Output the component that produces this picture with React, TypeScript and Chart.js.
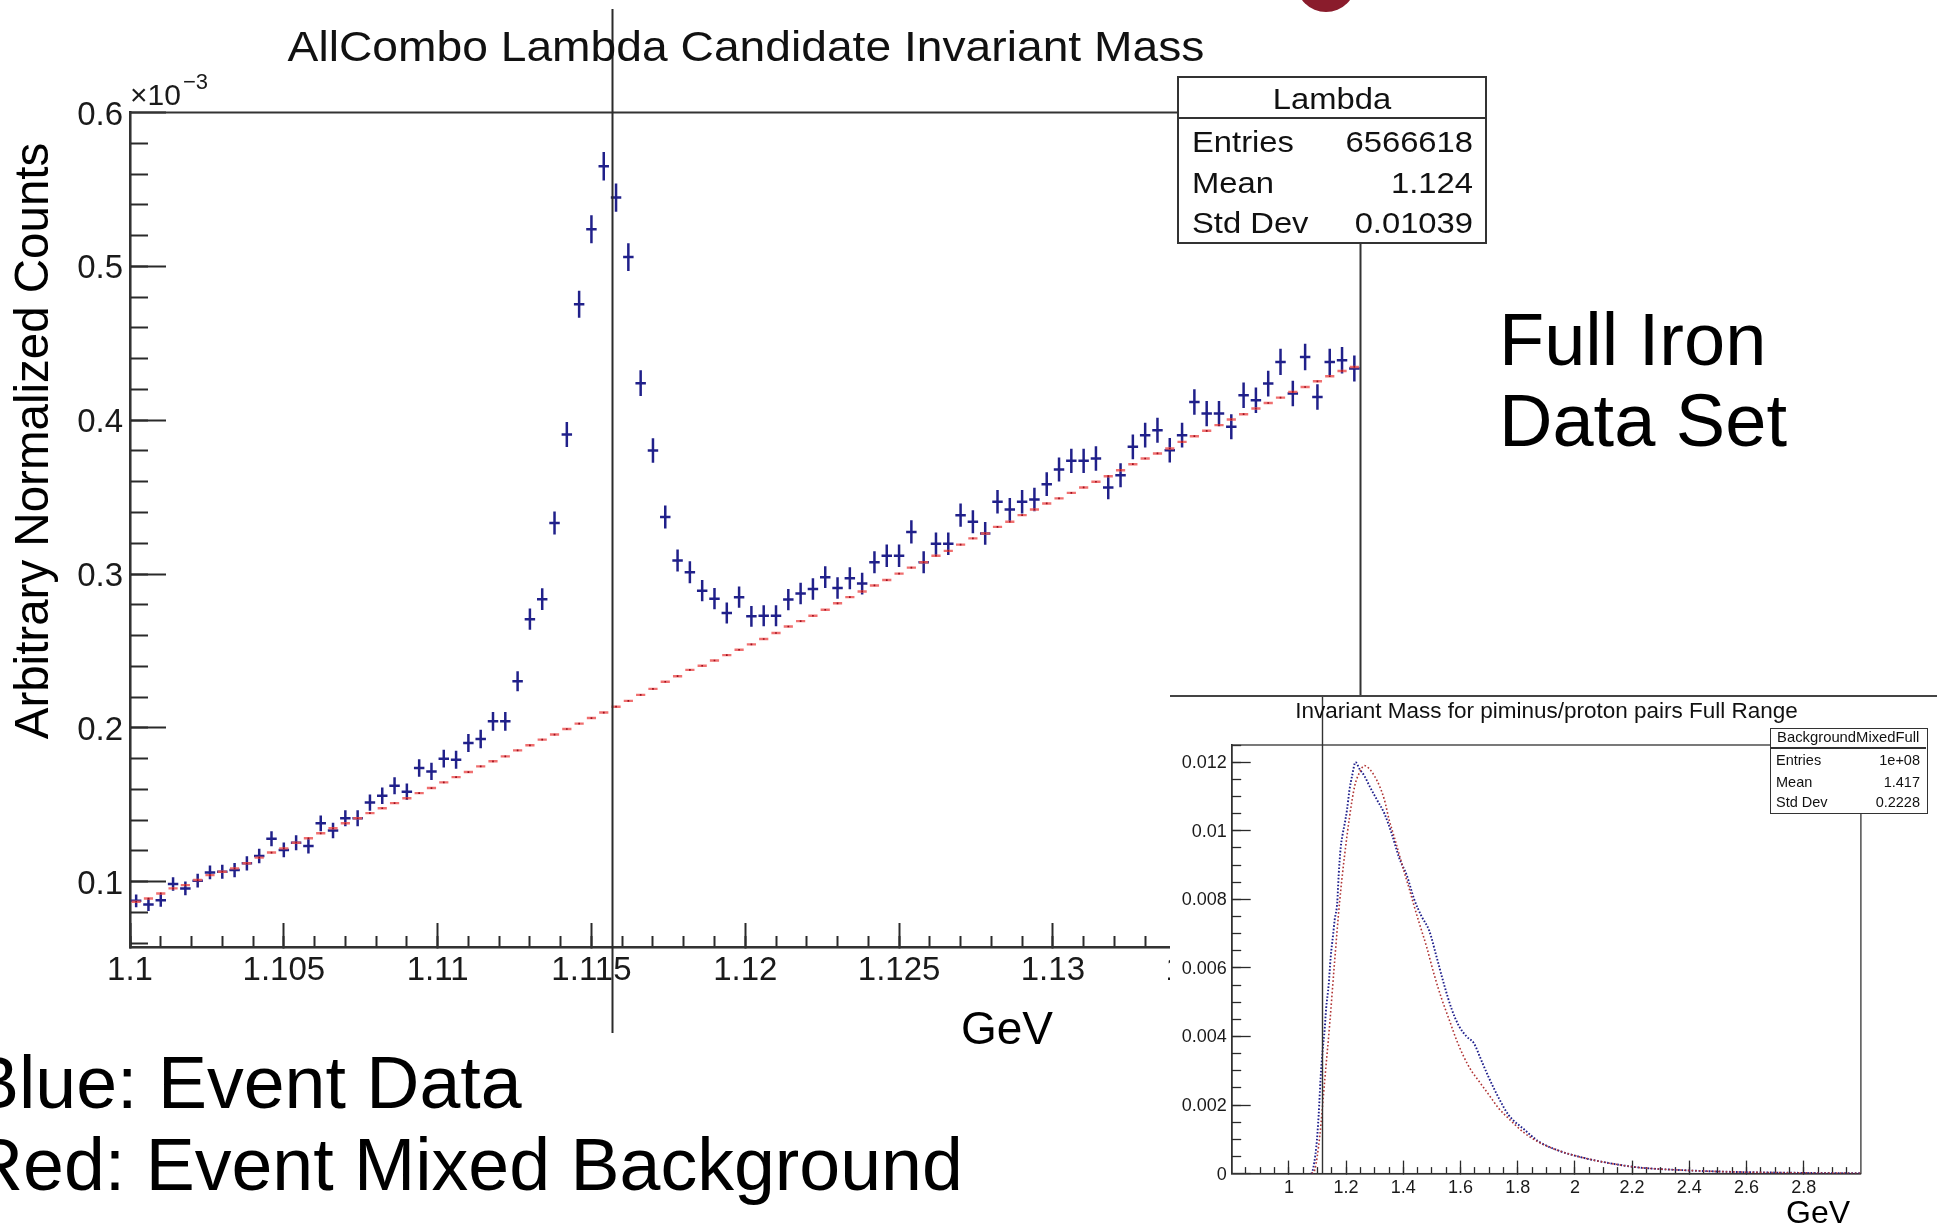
import React, { useEffect, useRef } from 'react';
import { Chart, registerables } from 'chart.js';

Chart.register(...registerables);

const FONT = '"Liberation Sans", Arial, Helvetica, sans-serif';

// ---------------- Main histogram: AllCombo Lambda Candidate Invariant Mass ----------------
const BIN_CENTERS = [
  1.1002, 1.1006, 1.101, 1.1014, 1.1018, 1.1022, 1.1026, 1.103, 1.1034, 1.1038,
  1.1042, 1.1046, 1.105, 1.1054, 1.1058, 1.1062, 1.1066, 1.107, 1.1074, 1.1078,
  1.1082, 1.1086, 1.109, 1.1094, 1.1098, 1.1102, 1.1106, 1.111, 1.1114, 1.1118,
  1.1122, 1.1126, 1.113, 1.1134, 1.1138, 1.1142, 1.1146, 1.115, 1.1154, 1.1158,
  1.1162, 1.1166, 1.117, 1.1174, 1.1178, 1.1182, 1.1186, 1.119, 1.1194, 1.1198,
  1.1202, 1.1206, 1.121, 1.1214, 1.1218, 1.1222, 1.1226, 1.123, 1.1234, 1.1238,
  1.1242, 1.1246, 1.125, 1.1254, 1.1258, 1.1262, 1.1266, 1.127, 1.1274, 1.1278,
  1.1282, 1.1286, 1.129, 1.1294, 1.1298, 1.1302, 1.1306, 1.131, 1.1314, 1.1318,
  1.1322, 1.1326, 1.133, 1.1334, 1.1338, 1.1342, 1.1346, 1.135, 1.1354, 1.1358,
  1.1362, 1.1366, 1.137, 1.1374, 1.1378, 1.1382, 1.1386, 1.139, 1.1394, 1.1398,
];

// Event data (blue), in units of 1e-3
const BLUE_COUNTS = [
  0.0876, 0.0852, 0.088, 0.0985, 0.0957, 0.1007, 0.1061, 0.1065, 0.1076, 0.112,
  0.1167, 0.128, 0.1207, 0.1254, 0.1233, 0.138, 0.1333, 0.1413, 0.1413, 0.1515,
  0.1559, 0.1624, 0.1585, 0.174, 0.1717, 0.18, 0.1793, 0.1902, 0.1928, 0.2043,
  0.2043, 0.2304, 0.2707, 0.2837, 0.3332, 0.3907, 0.4754, 0.5241, 0.5651, 0.5447,
  0.506, 0.4241, 0.3803, 0.3371, 0.3088, 0.3012, 0.2892, 0.284, 0.2747, 0.285,
  0.2725, 0.2729, 0.2729, 0.2834, 0.2873, 0.2903, 0.298, 0.291, 0.2973, 0.2938,
  0.3077, 0.3119, 0.3119, 0.3274, 0.3077, 0.3197, 0.3197, 0.3383, 0.334, 0.3264,
  0.347, 0.342, 0.347, 0.3485, 0.3584, 0.368, 0.3736, 0.3736, 0.3751, 0.3563,
  0.3643, 0.3827, 0.3903, 0.3935, 0.3805, 0.3903, 0.4119, 0.4043, 0.4043, 0.3957,
  0.4162, 0.413, 0.4238, 0.4379, 0.4173, 0.4411, 0.4151, 0.4379, 0.439, 0.4336,
];

const BLUE_ERRORS = [
  0.0042, 0.0042, 0.0042, 0.0044, 0.0044, 0.0045, 0.0045, 0.0045, 0.0046, 0.0046,
  0.0047, 0.0049, 0.0048, 0.0049, 0.0049, 0.0051, 0.005, 0.0052, 0.0052, 0.0053,
  0.0054, 0.0055, 0.0054, 0.0057, 0.0056, 0.0058, 0.0058, 0.0059, 0.006, 0.0061,
  0.0061, 0.0065, 0.0069, 0.007, 0.0075, 0.0081, 0.0088, 0.0091, 0.0093, 0.0092,
  0.009, 0.0083, 0.0079, 0.0075, 0.0072, 0.0071, 0.0069, 0.0069, 0.0068, 0.0069,
  0.0068, 0.0068, 0.0068, 0.0069, 0.007, 0.007, 0.0071, 0.007, 0.0071, 0.0071,
  0.0072, 0.0073, 0.0073, 0.0075, 0.0072, 0.0073, 0.0073, 0.0075, 0.0075, 0.0074,
  0.0076, 0.0075, 0.0076, 0.0076, 0.0077, 0.0078, 0.0079, 0.0079, 0.0079, 0.0077,
  0.0078, 0.008, 0.0081, 0.0081, 0.008, 0.0081, 0.0083, 0.0082, 0.0082, 0.0081,
  0.0083, 0.0083, 0.0084, 0.0085, 0.0083, 0.0086, 0.0083, 0.0085, 0.0086, 0.0085,
];

// Event mixed background (red), in units of 1e-3
const RED_COUNTS = [
  0.087, 0.0891, 0.0924, 0.0957, 0.0978, 0.1011, 0.1043, 0.1065, 0.1087, 0.112,
  0.1157, 0.119, 0.1217, 0.1254, 0.1283, 0.1315, 0.1348, 0.138, 0.1413, 0.1446,
  0.1478, 0.1511, 0.1543, 0.1576, 0.1609, 0.1646, 0.168, 0.1713, 0.175, 0.1783,
  0.1815, 0.1854, 0.1887, 0.1924, 0.1957, 0.1993, 0.2028, 0.2064, 0.21, 0.2138,
  0.2176, 0.2215, 0.2254, 0.23, 0.2336, 0.2377, 0.2404, 0.2438, 0.2473, 0.2508,
  0.2543, 0.2578, 0.2617, 0.2659, 0.2694, 0.2729, 0.2768, 0.281, 0.285, 0.2887,
  0.2926, 0.2961, 0.3003, 0.3042, 0.3077, 0.3119, 0.3151, 0.3191, 0.3232, 0.3264,
  0.3307, 0.334, 0.3383, 0.342, 0.3459, 0.3492, 0.3528, 0.3563, 0.36, 0.3636,
  0.3675, 0.3714, 0.3751, 0.3784, 0.3816, 0.3859, 0.3896, 0.3931, 0.3968, 0.4005,
  0.4039, 0.4076, 0.4112, 0.4147, 0.4184, 0.4216, 0.4253, 0.4286, 0.432, 0.4346,
];

const LAMBDA_MASS = 1.115683;
const MAIN_X_MIN = 1.1;
const MAIN_X_MAX = 1.14;
const MAIN_Y_MIN = 0.0576;
const MAIN_Y_MAX = 0.6;
const MAIN_X_TICKS = [1.1, 1.105, 1.11, 1.115, 1.12, 1.125, 1.13, 1.135, 1.14];
const MAIN_X_TICK_LABELS = ['1.1', '1.105', '1.11', '1.115', '1.12', '1.125', '1.13', '1.135', '1.14'];
const MAIN_Y_TICKS = [0.1, 0.2, 0.3, 0.4, 0.5, 0.6];
const MAIN_Y_TICK_LABELS = ['0.1', '0.2', '0.3', '0.4', '0.5', '0.6'];
const LAMBDA_STATS = [
  ['Entries', '6566618'],
  ['Mean', '1.124'],
  ['Std Dev', '0.01039'],
];

// ---------------- Inset: Invariant Mass for piminus/proton pairs Full Range ----------------
const INSET_BLUE_X = [
  1.078, 1.082, 1.096, 1.104, 1.111, 1.118, 1.125, 1.13, 1.139, 1.146, 1.155, 1.16, 1.169,
  1.174, 1.181, 1.188, 1.195, 1.203, 1.212, 1.221, 1.233, 1.247, 1.264, 1.282, 1.308, 1.334,
  1.36, 1.386, 1.412, 1.438, 1.464, 1.49, 1.517, 1.543, 1.569, 1.595, 1.621, 1.647, 1.673,
  1.699, 1.734, 1.769, 1.821, 1.873, 1.943, 2.03, 2.117, 2.221, 2.377, 2.551, 2.812, 3.0,
];
const INSET_BLUE_Y = [
  0, 0.00005, 0.0008, 0.0017, 0.0028, 0.0036, 0.0042, 0.0048, 0.0055, 0.0063, 0.007, 0.0074,
  0.0079, 0.0087, 0.0095, 0.0099, 0.0102, 0.0106, 0.0112, 0.0116, 0.012, 0.0118, 0.0116,
  0.0113, 0.0109, 0.0105, 0.0099, 0.0092, 0.0087, 0.008, 0.0075, 0.0071, 0.0063, 0.0055,
  0.0048, 0.0043, 0.004, 0.0038, 0.0033, 0.0028, 0.0022, 0.0017, 0.0013, 0.00094, 0.00067,
  0.00046, 0.00031, 0.00018, 0.0001, 0.00005, 0.00002, 0.00001,
];
const INSET_RED_X = [
  1.08, 1.09, 1.108, 1.125, 1.143, 1.16, 1.177, 1.195, 1.212, 1.23, 1.247, 1.264, 1.282,
  1.299, 1.317, 1.334, 1.351, 1.369, 1.386, 1.403, 1.421, 1.438, 1.456, 1.482, 1.508, 1.534,
  1.56, 1.586, 1.612, 1.638, 1.664, 1.699, 1.734, 1.769, 1.821, 1.873, 1.943, 2.03, 2.117,
  2.221, 2.377, 2.551, 2.812, 3.0,
];
const INSET_RED_Y = [
  0, 0.0001, 0.0011, 0.0027, 0.0044, 0.0062, 0.0079, 0.0093, 0.0104, 0.0113, 0.0117, 0.0119,
  0.0118, 0.0116, 0.0113, 0.0109, 0.0103, 0.0098, 0.0093, 0.0088, 0.0083, 0.0078, 0.0073,
  0.0066, 0.0058, 0.0051, 0.0045, 0.0039, 0.0034, 0.003, 0.0027, 0.0023, 0.0019, 0.0016,
  0.0012, 0.00092, 0.00067, 0.00046, 0.00031, 0.00018, 0.0001, 0.00005, 0.00002, 0.00001,
];
const INSET_X_MIN = 0.8;
const INSET_X_MAX = 3.0;
const INSET_Y_MIN = 0;
const INSET_Y_MAX = 0.0125;
const INSET_X_TICKS = [1, 1.2, 1.4, 1.6, 1.8, 2, 2.2, 2.4, 2.6, 2.8];
const INSET_X_TICK_LABELS = ['1', '1.2', '1.4', '1.6', '1.8', '2', '2.2', '2.4', '2.6', '2.8'];
const INSET_Y_TICKS = [0, 0.002, 0.004, 0.006, 0.008, 0.01, 0.012];
const INSET_Y_TICK_LABELS = ['0', '0.002', '0.004', '0.006', '0.008', '0.01', '0.012'];
const BKG_STATS = [
  ['Entries', '1e+08'],
  ['Mean', '1.417'],
  ['Std Dev', '0.2228'],
];

// ---------------- styling constants ----------------
const BLUE = '#20208a';
const RED_LIGHT = 'rgba(238, 92, 92, 0.88)';
const RED_DARK = '#9a0f1e';
const CROSS_HALF_WIDTH = 0.00017; // horizontal arm of the data crosses, in GeV

function steps(from: number, to: number, step: number): number[] {
  const out: number[] = [];
  const n = Math.round((to - from) / step);
  for (let i = 0; i <= n; i++) out.push(+(from + i * step).toFixed(6));
  return out;
}

type AxisSpec = {
  id: string;
  minorId: string;
  position: 'bottom' | 'left';
  min: number;
  max: number;
  major: number[];
  labels: string[];
  minor: number[];
  size: number;
  majorLen: number;
  minorLen: number;
  fontSize: number;
  padding: number;
  labelOffset?: number;
  borderWidth: number;
  tickWidth: number;
};

function makeAxes(p: AxisSpec) {
  const horizontal = p.position === 'bottom';
  return {
    [p.id]: {
      type: 'linear',
      position: p.position,
      min: p.min,
      max: p.max,
      weight: 1,
      afterBuildTicks: (s: any) => {
        s.ticks = p.major.map((v) => ({ value: v }));
      },
      afterFit: (s: any) => {
        if (horizontal) s.height = p.size;
        else s.width = p.size;
      },
      ticks: {
        autoSkip: false,
        maxRotation: 0,
        minRotation: 0,
        padding: p.padding,
        labelOffset: p.labelOffset || 0,
        color: '#1a1a1a',
        font: { family: FONT, size: p.fontSize },
        callback: (_v: any, i: number) => p.labels[i],
      },
      grid: {
        drawOnChartArea: false,
        drawTicks: true,
        tickLength: -p.majorLen,
        tickWidth: p.tickWidth,
        tickColor: '#2a2a2a',
      },
      border: { display: true, color: '#1e1e1e', width: p.borderWidth },
    },
    [p.minorId]: {
      type: 'linear',
      position: p.position,
      min: p.min,
      max: p.max,
      weight: 0,
      afterBuildTicks: (s: any) => {
        s.ticks = p.minor.map((v) => ({ value: v }));
      },
      afterFit: (s: any) => {
        if (horizontal) s.height = 0;
        else s.width = 0;
      },
      ticks: { display: false },
      grid: {
        drawOnChartArea: false,
        drawTicks: true,
        tickLength: -p.minorLen,
        tickWidth: p.tickWidth,
        tickColor: '#2a2a2a',
      },
      border: { display: false },
    },
  };
}

function MainChart() {
  const ref = useRef<HTMLCanvasElement>(null);
  useEffect(() => {
    const canvas = ref.current;
    if (!canvas) return;

    const blueSegments: { x: number; y: number | null }[] = [];
    BIN_CENTERS.forEach((c, i) => {
      const v = BLUE_COUNTS[i];
      const e = BLUE_ERRORS[i];
      blueSegments.push({ x: c, y: v - e }, { x: c, y: v + e }, { x: c, y: null });
      blueSegments.push(
        { x: c - CROSS_HALF_WIDTH, y: v },
        { x: c + CROSS_HALF_WIDTH, y: v },
        { x: c + CROSS_HALF_WIDTH, y: null },
      );
    });
    const redPoints = BIN_CENTERS.map((c, i) => ({ x: c, y: RED_COUNTS[i] }));

    const overlay = {
      id: 'mainOverlay',
      beforeDatasetsDraw(chart: any) {
        const { ctx, chartArea: a } = chart;
        ctx.save();
        ctx.strokeStyle = '#333';
        ctx.lineWidth = 2;
        ctx.strokeRect(a.left, a.top, a.right - a.left, a.bottom - a.top);
        ctx.restore();
      },
      afterDraw(chart: any) {
        const { ctx } = chart;
        const x = Math.round(chart.scales.x.getPixelForValue(LAMBDA_MASS)) + 0.5;
        ctx.save();
        ctx.strokeStyle = '#2b2b2b';
        ctx.lineWidth = 2;
        ctx.beginPath();
        ctx.moveTo(x, 9);
        ctx.lineTo(x, 1033);
        ctx.stroke();
        ctx.restore();
      },
    };

    const chart = new Chart(canvas, {
      type: 'line',
      data: {
        datasets: [
          {
            label: 'Event Data',
            data: blueSegments as any,
            borderColor: BLUE,
            borderWidth: 2.5,
            pointRadius: 0,
            spanGaps: false,
            tension: 0,
            fill: false,
            order: 2,
          },
          {
            label: 'Event Mixed Background',
            data: redPoints,
            showLine: false,
            pointStyle: 'line',
            pointRadius: 4.6,
            pointBorderWidth: 2.4,
            pointBorderColor: RED_LIGHT,
            pointBackgroundColor: RED_LIGHT,
            order: 1,
          },
          {
            label: 'Event Mixed Background (bin centre)',
            data: redPoints,
            showLine: false,
            pointStyle: 'rect',
            pointRadius: 1.2,
            pointBorderWidth: 0,
            pointBackgroundColor: RED_DARK,
            order: 0,
          },
        ],
      } as any,
      options: {
        responsive: false,
        animation: false,
        devicePixelRatio: 1,
        events: [],
        layout: { padding: { left: 0, top: 112.5, right: 79.5, bottom: 53 } },
        plugins: { legend: { display: false }, tooltip: { enabled: false }, title: { display: false } },
        scales: {
          ...makeAxes({
            id: 'x',
            minorId: 'xMinor',
            position: 'bottom',
            min: MAIN_X_MIN,
            max: MAIN_X_MAX,
            major: MAIN_X_TICKS,
            labels: MAIN_X_TICK_LABELS,
            minor: steps(1.1, 1.14, 0.001),
            size: 60,
            majorLen: 24,
            minorLen: 11,
            fontSize: 33,
            padding: 28,
            borderWidth: 2.5,
            tickWidth: 2,
          }),
          ...makeAxes({
            id: 'y',
            minorId: 'yMinor',
            position: 'left',
            min: MAIN_Y_MIN,
            max: MAIN_Y_MAX,
            major: MAIN_Y_TICKS,
            labels: MAIN_Y_TICK_LABELS,
            minor: steps(0.06, 0.58, 0.02),
            size: 130,
            majorLen: 36,
            minorLen: 18,
            fontSize: 33,
            padding: 43,
            labelOffset: 3,
            borderWidth: 2.5,
            tickWidth: 2,
          }),
        } as any,
      },
      plugins: [overlay],
    });
    return () => chart.destroy();
  }, []);
  return (
    <canvas
      ref={ref}
      width={1440}
      height={1060}
      style={{ position: 'absolute', left: 0, top: 0, width: 1440, height: 1060 }}
    />
  );
}

function InsetChart() {
  const ref = useRef<HTMLCanvasElement>(null);
  useEffect(() => {
    const canvas = ref.current;
    if (!canvas) return;
    const overlay = {
      id: 'insetOverlay',
      beforeDatasetsDraw(chart: any) {
        const { ctx, chartArea: a } = chart;
        ctx.save();
        ctx.strokeStyle = '#333';
        ctx.lineWidth = 1.3;
        ctx.strokeRect(a.left, a.top, a.right - a.left, a.bottom - a.top);
        ctx.restore();
      },
      afterDraw(chart: any) {
        const { ctx, chartArea: a } = chart;
        const x = Math.round(chart.scales.x.getPixelForValue(LAMBDA_MASS)) + 0.5;
        ctx.save();
        ctx.strokeStyle = '#333';
        ctx.lineWidth = 1.4;
        ctx.beginPath();
        ctx.moveTo(x, 0);
        ctx.lineTo(x, a.bottom);
        ctx.stroke();
        ctx.restore();
      },
    };
    const chart = new Chart(canvas, {
      type: 'line',
      data: {
        datasets: [
          {
            label: 'Event Data',
            data: INSET_BLUE_X.map((x, i) => ({ x, y: INSET_BLUE_Y[i] })),
            borderColor: '#1f1f8c',
            borderWidth: 1.9,
            borderDash: [1.6, 1.8],
            pointRadius: 0,
            cubicInterpolationMode: 'monotone',
            fill: false,
            order: 1,
          },
          {
            label: 'BackgroundMixedFull',
            data: INSET_RED_X.map((x, i) => ({ x, y: INSET_RED_Y[i] })),
            borderColor: '#b03434',
            borderWidth: 1.6,
            borderDash: [1.6, 2.2],
            pointRadius: 0,
            cubicInterpolationMode: 'monotone',
            fill: false,
            order: 0,
          },
        ],
      } as any,
      options: {
        responsive: false,
        animation: false,
        devicePixelRatio: 1,
        events: [],
        layout: { padding: { left: 0, top: 50, right: 76.1, bottom: 25.4 } },
        plugins: { legend: { display: false }, tooltip: { enabled: false }, title: { display: false } },
        scales: {
          ...makeAxes({
            id: 'x',
            minorId: 'xMinor',
            position: 'bottom',
            min: INSET_X_MIN,
            max: INSET_X_MAX,
            major: INSET_X_TICKS,
            labels: INSET_X_TICK_LABELS,
            minor: steps(0.85, 2.95, 0.05),
            size: 30,
            majorLen: 13,
            minorLen: 6.5,
            fontSize: 18,
            padding: 17,
            borderWidth: 1.6,
            tickWidth: 1.3,
          }),
          ...makeAxes({
            id: 'y',
            minorId: 'yMinor',
            position: 'left',
            min: INSET_Y_MIN,
            max: INSET_Y_MAX,
            major: INSET_Y_TICKS,
            labels: INSET_Y_TICK_LABELS,
            minor: steps(0.0005, 0.0125, 0.0005),
            size: 61.7,
            majorLen: 19,
            minorLen: 9.5,
            fontSize: 18,
            padding: 24,
            labelOffset: 1,
            borderWidth: 1.6,
            tickWidth: 1.3,
          }),
        } as any,
      },
      plugins: [overlay],
    });
    return () => chart.destroy();
  }, []);
  return (
    <canvas
      ref={ref}
      width={767}
      height={534}
      style={{ position: 'absolute', left: 0, top: 0, width: 767, height: 534 }}
    />
  );
}

type TxtProps = {
  x: number;
  base: number;
  size: number;
  text: string;
  align?: 'left' | 'center' | 'right';
  w?: number;
  sx?: number;
  color?: string;
};

function Txt({ x, base, size, text, align = 'left', w = 1400, sx = 1, color = '#000' }: TxtProps) {
  const top = base - 0.8464 * size;
  const left = align === 'left' ? x : align === 'center' ? x - w / 2 : x - w;
  return (
    <div
      style={{
        position: 'absolute',
        left,
        top,
        width: w,
        textAlign: align,
        fontFamily: FONT,
        fontSize: size,
        lineHeight: `${size}px`,
        whiteSpace: 'nowrap',
        color,
        transform: sx !== 1 ? `scaleX(${sx})` : undefined,
        transformOrigin: align === 'left' ? '0 0' : align === 'center' ? '50% 0' : '100% 0',
      }}
    >
      {text}
    </div>
  );
}

function StatsBox(props: {
  left: number;
  top: number;
  width: number;
  height: number;
  border: number;
  title: string;
  rows: string[][];
  titleBase: number;
  divider: number;
  rowBases: number[];
  size: number;
  titleSize: number;
  padL: number;
  padR: number;
  sx: number;
}) {
  const inner = props.width - 2 * props.border;
  return (
    <div
      style={{
        position: 'absolute',
        left: props.left,
        top: props.top,
        width: props.width,
        height: props.height,
        border: `${props.border}px solid #333`,
        boxSizing: 'border-box',
        background: '#fff',
      }}
    >
      <Txt x={inner / 2} base={props.titleBase} size={props.titleSize} text={props.title} align="center" w={inner} sx={props.sx} color="#111" />
      <div
        style={{
          position: 'absolute',
          left: 0,
          width: inner,
          top: props.divider - props.border / 2,
          height: props.border,
          background: '#333',
        }}
      />
      {props.rows.map((r, i) => (
        <React.Fragment key={r[0]}>
          <Txt x={props.padL} base={props.rowBases[i]} size={props.size} text={r[0]} w={inner} sx={props.sx} color="#111" />
          <Txt x={inner - props.padR} base={props.rowBases[i]} size={props.size} text={r[1]} align="right" w={inner} sx={props.sx} color="#111" />
        </React.Fragment>
      ))}
    </div>
  );
}

export default function App() {
  return (
    <div
      style={{
        position: 'absolute',
        left: 0,
        top: 0,
        width: 1937,
        height: 1229,
        overflow: 'hidden',
        background: '#fff',
        fontFamily: FONT,
      }}
    >
      <MainChart />

      {/* partial logo at the top edge of the slide */}
      <div
        style={{
          position: 'absolute',
          left: 1296,
          top: -48,
          width: 60,
          height: 60,
          borderRadius: '50%',
          background: '#8a1c2c',
        }}
      />

      <Txt x={745.5} base={62} size={42} text="AllCombo Lambda Candidate Invariant Mass" align="center" w={1000} sx={1.1} color="#111" />
      <Txt x={130} base={105} size={30} text="×10" color="#1a1a1a" />
      <Txt x={183} base={90} size={22} text="−3" color="#1a1a1a" />

      <div
        style={{
          position: 'absolute',
          left: 32 - 350,
          top: 441 - 25,
          width: 700,
          height: 50,
          lineHeight: '50px',
          fontSize: 47.5,
          fontFamily: FONT,
          textAlign: 'center',
          whiteSpace: 'nowrap',
          transform: 'rotate(-90deg)',
          transformOrigin: '50% 50%',
          color: '#000',
        }}
      >
        Arbitrary Normalized Counts
      </div>

      <Txt x={961} base={1044} size={46} text="GeV" />

      <Txt x={1499} base={366} size={74} text="Full Iron" />
      <Txt x={1499} base={447} size={74} text="Data Set" />

      <Txt x={-30} base={1108} size={73.5} text="Blue: Event Data" />
      <Txt x={-30} base={1190} size={73.5} text="Red: Event Mixed Background" />

      <StatsBox
        left={1177}
        top={76}
        width={310}
        height={168}
        border={2}
        title="Lambda"
        rows={LAMBDA_STATS}
        titleBase={30.5}
        divider={39.5}
        rowBases={[73.7, 115.3, 154.7]}
        size={29.5}
        titleSize={29.5}
        padL={13}
        padR={12}
        sx={1.11}
      />

      <div
        style={{
          position: 'absolute',
          left: 1170,
          top: 695,
          width: 767,
          height: 534,
          background: '#fff',
        }}
      >
        <InsetChart />
        <div style={{ position: 'absolute', left: 0, top: 0, width: 767, height: 2, background: '#444' }} />
        <Txt x={376.5} base={24} size={22.5} text="Invariant Mass for piminus/proton pairs Full Range" align="center" w={700} color="#111" />
        <Txt x={616} base={528} size={32} text="GeV" />
        <StatsBox
          left={599.5}
          top={32.5}
          width={158.5}
          height={86}
          border={1.5}
          title="BackgroundMixedFull"
          rows={BKG_STATS}
          titleBase={14.5}
          divider={19.6}
          rowBases={[36.5, 58.3, 78.7]}
          size={14.5}
          titleSize={14.8}
          padL={5.5}
          padR={6}
          sx={1}
        />
      </div>
    </div>
  );
}
